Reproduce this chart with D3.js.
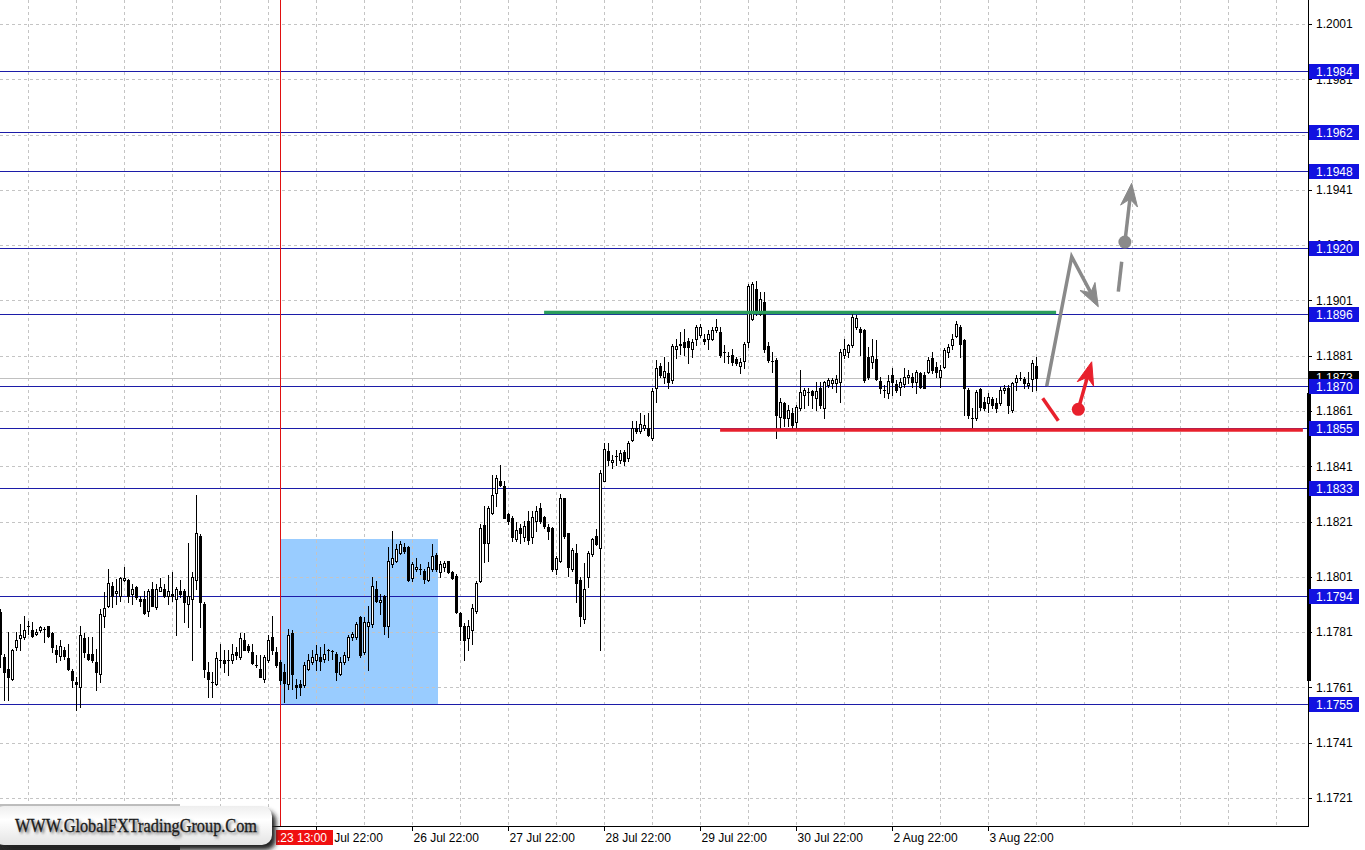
<!DOCTYPE html>
<html><head><meta charset="utf-8">
<script src="https://cdn.jsdelivr.net/npm/d3@7"></script>
<style>body{margin:0;background:#fff;}svg{display:block;}</style>
</head><body><svg id="c" width="1365" height="850"></svg>
<script>
// ---- DATA (EURUSD H1) ----
const opens = [1.17882,1.17720,1.17678,1.17639,1.17756,1.17790,1.17792,1.17831,1.17819,1.17804,
1.17816,1.17820,1.17832,1.17807,1.17747,1.17724,1.17747,1.17718,1.17669,1.17630,
1.17612,1.17790,1.17730,1.17730,1.17702,1.17660,1.17870,1.17906,1.17978,1.17951,
1.17942,1.17999,1.17999,1.17948,1.17975,1.17930,1.17930,1.17888,1.17966,1.17900,
1.17960,1.17966,1.17942,1.17948,1.17930,1.17960,1.17960,1.17910,1.17930,1.17999,
1.18158,1.17910,1.17666,1.17630,1.17622,1.17708,1.17708,1.17708,1.17708,1.17738,
1.17720,1.17780,1.17759,1.17738,1.17690,1.17678,1.17639,1.17708,1.17792,1.17738,
1.17702,1.17666,1.17624,1.17807,1.17618,1.17621,1.17618,1.17678,1.17702,1.17708,
1.17720,1.17714,1.17744,1.17742,1.17732,1.17660,1.17702,1.17720,1.17792,1.17792,
1.17864,1.17738,1.17834,1.17838,1.17966,1.17918,1.17942,1.17834,1.18056,1.18068,
1.18098,1.18119,1.18119,1.18006,1.18038,1.18038,1.18030,1.17999,1.18038,1.18090,
1.18026,1.18044,1.18066,1.18026,1.18014,1.17879,1.17831,1.17790,1.17819,1.17888,
1.17996,1.18198,1.18134,1.18242,1.18314,1.18356,1.18338,1.18236,1.18224,1.18146,
1.18186,1.18155,1.18212,1.18155,1.18212,1.18260,1.18227,1.18191,1.18186,1.18038,
1.18068,1.18294,1.18167,1.18038,1.18095,1.17999,1.17858,1.18008,1.18092,1.18158,
1.18116,1.18358,1.18466,1.18426,1.18446,1.18434,1.18462,1.18440,1.18506,1.18550,
1.18536,1.18548,1.18548,1.18512,1.18692,1.18774,1.18734,1.18746,1.18722,1.18834,
1.18848,1.18860,1.18862,1.18834,1.18872,1.18884,1.18872,1.18872,1.18872,1.18902,
1.18896,1.18824,1.18810,1.18812,1.18798,1.18774,1.18790,1.18860,1.18944,1.19052,
1.18962,1.19004,1.18846,1.18790,1.18794,1.18590,1.18638,1.18584,1.18602,1.18572,
1.18620,1.18668,1.18680,1.18682,1.18656,1.18692,1.18622,1.18704,1.18710,1.18710,
1.18714,1.18812,1.18822,1.18850,1.18914,1.18908,1.18902,1.18806,1.18788,1.18798,
1.18718,1.18686,1.18674,1.18742,1.18706,1.18698,1.18706,1.18734,1.18734,1.18716,
1.18746,1.18742,1.18752,1.18802,1.18770,1.18734,1.18770,1.18822,1.18850,1.18882,
1.18914,1.18866,1.18686,1.18584,1.18584,1.18690,1.18644,1.18638,1.18654,1.18638,
1.18638,1.18686,1.18694,1.18614,1.18714,1.18730,1.18726,1.18704,1.18726,1.18774];
const highs = [1.17894,1.17732,1.17810,1.17750,1.17810,1.17840,1.17870,1.17852,1.17846,1.17822,
1.17834,1.17828,1.17834,1.17810,1.17762,1.17780,1.17756,1.17768,1.17678,1.17648,
1.17831,1.17807,1.17792,1.17792,1.17750,1.17894,1.17954,1.18038,1.17990,1.18002,
1.18008,1.18047,1.18002,1.17984,1.17978,1.17942,1.17960,1.17966,1.17990,1.17984,
1.18006,1.17984,1.18017,1.18029,1.17975,1.17999,1.17966,1.18134,1.18026,1.18306,
1.18164,1.17918,1.17702,1.17666,1.17738,1.17768,1.17744,1.17747,1.17768,1.17756,
1.17807,1.17807,1.17768,1.17768,1.17726,1.17726,1.17726,1.17798,1.17870,1.17756,
1.17708,1.17696,1.17822,1.17816,1.17642,1.17636,1.17702,1.17732,1.17744,1.17762,
1.17756,1.17768,1.17750,1.17747,1.17738,1.17720,1.17738,1.17798,1.17810,1.17846,
1.17870,1.17864,1.17906,1.18008,1.17996,1.17948,1.17946,1.18119,1.18176,1.18128,
1.18140,1.18134,1.18122,1.18062,1.18078,1.18056,1.18038,1.18062,1.18128,1.18095,
1.18068,1.18066,1.18068,1.18032,1.18020,1.17882,1.17843,1.17855,1.17912,1.17996,
1.18200,1.18266,1.18266,1.18380,1.18380,1.18416,1.18356,1.18242,1.18230,1.18210,
1.18200,1.18212,1.18248,1.18248,1.18266,1.18278,1.18230,1.18200,1.18191,1.18086,
1.18308,1.18296,1.18170,1.18114,1.18128,1.18008,1.18059,1.18104,1.18152,1.18182,
1.18398,1.18494,1.18494,1.18452,1.18470,1.18470,1.18470,1.18500,1.18574,1.18574,
1.18602,1.18596,1.18602,1.18692,1.18794,1.18782,1.18806,1.18788,1.18854,1.18872,
1.18896,1.18908,1.18874,1.18870,1.18920,1.18926,1.18890,1.18902,1.18914,1.18944,
1.18914,1.18848,1.18824,1.18836,1.18806,1.18800,1.18860,1.19070,1.19076,1.19082,
1.19040,1.19040,1.18860,1.18824,1.18800,1.18656,1.18644,1.18632,1.18620,1.18632,
1.18758,1.18694,1.18692,1.18686,1.18716,1.18714,1.18718,1.18728,1.18728,1.18740,
1.18834,1.18872,1.18854,1.18962,1.18956,1.18914,1.18908,1.18842,1.18872,1.18866,
1.18734,1.18704,1.18740,1.18764,1.18722,1.18728,1.18766,1.18758,1.18746,1.18758,
1.18752,1.18752,1.18806,1.18824,1.18788,1.18776,1.18838,1.18854,1.18890,1.18934,
1.18920,1.18872,1.18692,1.18620,1.18686,1.18692,1.18662,1.18674,1.18662,1.18656,
1.18698,1.18704,1.18704,1.18716,1.18740,1.18752,1.18734,1.18752,1.18794,1.18806];
const lows = [1.17684,1.17564,1.17564,1.17636,1.17744,1.17744,1.17786,1.17804,1.17792,1.17798,
1.17810,1.17774,1.17792,1.17738,1.17702,1.17708,1.17714,1.17672,1.17612,1.17528,
1.17540,1.17720,1.17708,1.17702,1.17600,1.17630,1.17828,1.17900,1.17900,1.17912,
1.17924,1.17996,1.17918,1.17910,1.17930,1.17903,1.17876,1.17870,1.17903,1.17894,
1.17958,1.17936,1.17910,1.17924,1.17798,1.17936,1.17846,1.17828,1.17708,1.17966,
1.17828,1.17648,1.17576,1.17576,1.17618,1.17684,1.17666,1.17654,1.17699,1.17714,
1.17714,1.17744,1.17738,1.17696,1.17684,1.17648,1.17630,1.17702,1.17732,1.17684,
1.17624,1.17558,1.17606,1.17606,1.17570,1.17582,1.17612,1.17672,1.17696,1.17672,
1.17672,1.17702,1.17708,1.17714,1.17636,1.17654,1.17696,1.17708,1.17780,1.17786,
1.17720,1.17732,1.17672,1.17828,1.17918,1.17876,1.17804,1.17792,1.18044,1.18062,
1.18092,1.18098,1.17996,1.17996,1.18032,1.18020,1.17987,1.17996,1.18032,1.18032,
1.18008,1.18032,1.18023,1.18002,1.17879,1.17780,1.17708,1.17744,1.17768,1.17879,
1.17990,1.18062,1.18068,1.18236,1.18266,1.18338,1.18222,1.18200,1.18140,1.18140,
1.18134,1.18140,1.18128,1.18134,1.18176,1.18206,1.18188,1.18146,1.18032,1.18020,
1.18062,1.18152,1.18014,1.18032,1.17918,1.17834,1.17843,1.17972,1.18086,1.18126,
1.17744,1.18356,1.18416,1.18404,1.18416,1.18422,1.18416,1.18428,1.18500,1.18530,
1.18530,1.18542,1.18518,1.18506,1.18644,1.18734,1.18710,1.18694,1.18710,1.18800,
1.18818,1.18812,1.18782,1.18806,1.18848,1.18878,1.18854,1.18834,1.18866,1.18896,
1.18806,1.18788,1.18782,1.18776,1.18776,1.18746,1.18764,1.18842,1.18938,1.18956,
1.18956,1.18824,1.18788,1.18752,1.18512,1.18548,1.18554,1.18554,1.18542,1.18548,
1.18614,1.18620,1.18632,1.18620,1.18614,1.18620,1.18584,1.18698,1.18692,1.18680,
1.18644,1.18800,1.18806,1.18842,1.18908,1.18812,1.18716,1.18726,1.18764,1.18722,
1.18674,1.18662,1.18656,1.18668,1.18680,1.18668,1.18698,1.18710,1.18698,1.18674,
1.18692,1.18692,1.18746,1.18746,1.18734,1.18698,1.18766,1.18806,1.18836,1.18878,
1.18806,1.18596,1.18584,1.18548,1.18578,1.18614,1.18614,1.18608,1.18620,1.18608,
1.18632,1.18674,1.18602,1.18608,1.18686,1.18722,1.18692,1.18692,1.18682,1.18686];
const closes = [1.17732,1.17666,1.17648,1.17744,1.17780,1.17798,1.17819,1.17831,1.17795,1.17810,
1.17828,1.17820,1.17795,1.17756,1.17730,1.17759,1.17724,1.17678,1.17636,1.17622,
1.17798,1.17738,1.17714,1.17708,1.17666,1.17876,1.17898,1.17987,1.17942,1.17960,
1.18005,1.18005,1.17942,1.17966,1.17936,1.17922,1.17879,1.17960,1.17906,1.17966,
1.17975,1.17942,1.17960,1.17939,1.17966,1.17948,1.17918,1.17939,1.18008,1.18170,
1.17918,1.17678,1.17639,1.17630,1.17718,1.17708,1.17699,1.17708,1.17730,1.17726,
1.17790,1.17747,1.17744,1.17699,1.17690,1.17648,1.17720,1.17780,1.17747,1.17690,
1.17636,1.17627,1.17798,1.17660,1.17612,1.17610,1.17690,1.17708,1.17720,1.17732,
1.17706,1.17732,1.17744,1.17742,1.17666,1.17702,1.17729,1.17792,1.17804,1.17840,
1.17726,1.17846,1.17846,1.17978,1.17924,1.17927,1.17834,1.18068,1.18080,1.18110,
1.18128,1.18104,1.17999,1.18056,1.18047,1.18038,1.18002,1.18047,1.18086,1.18038,
1.18056,1.18059,1.18026,1.18006,1.17882,1.17834,1.17780,1.17831,1.17898,1.17987,
1.18186,1.18134,1.18260,1.18306,1.18366,1.18342,1.18224,1.18212,1.18155,1.18179,
1.18167,1.18194,1.18143,1.18227,1.18248,1.18212,1.18194,1.18176,1.18038,1.18080,
1.18296,1.18158,1.18044,1.18107,1.17987,1.17867,1.17966,1.18095,1.18146,1.18128,
1.18386,1.18474,1.18434,1.18434,1.18446,1.18458,1.18428,1.18494,1.18548,1.18538,
1.18562,1.18560,1.18524,1.18682,1.18766,1.18740,1.18754,1.18714,1.18846,1.18846,
1.18854,1.18842,1.18842,1.18860,1.18914,1.18914,1.18862,1.18890,1.18902,1.18914,
1.18812,1.18824,1.18810,1.18788,1.18782,1.18786,1.18854,1.19062,1.19070,1.18968,
1.19016,1.18836,1.18794,1.18790,1.18596,1.18644,1.18584,1.18614,1.18560,1.18626,
1.18680,1.18686,1.18680,1.18668,1.18682,1.18632,1.18714,1.18722,1.18722,1.18726,
1.18824,1.18834,1.18848,1.18950,1.18946,1.18894,1.18722,1.18734,1.18810,1.18726,
1.18694,1.18686,1.18718,1.18716,1.18686,1.18716,1.18734,1.18740,1.18716,1.18752,
1.18698,1.18694,1.18794,1.18758,1.18752,1.18758,1.18830,1.18842,1.18872,1.18926,
1.18854,1.18692,1.18596,1.18584,1.18680,1.18626,1.18620,1.18662,1.18630,1.18622,
1.18686,1.18694,1.18632,1.18710,1.18730,1.18730,1.18710,1.18710,1.18782,1.18730];

const priceTicks = [1.2001,1.1981,1.1961,1.1941,1.1921,1.1901,1.1881,1.1861,1.1841,1.1821,1.1801,1.1781,1.1761,1.1741,1.1721];
const levelPrices = [1.1984,1.1962,1.1948,1.1920,1.1896,1.1870,1.1855,1.1833,1.1794,1.1755];
const timeLabels = ["25 Jul 22:00","26 Jul 22:00","27 Jul 22:00","28 Jul 22:00","29 Jul 22:00","30 Jul 22:00","2 Aug 22:00","3 Aug 22:00"];
const timeLabelIdx = [79,103,127,151,175,199,223,247];
const gridIdx = d3.range(7, 320, 12);
const currentPrice = 1.1873;
const markerIdx = 70;
const markerLabel = ".23 13:00";
const zoneIdx = [70, 109.4];
const zonePrices = [1.18146, 1.1755];
const resistanceIdx = [135.9, 263.9];
const resistancePrice = 1.18966;
const supportIdx = [179.9, 325.6];
const supportPrice = 1.18541;
const greyZig = [[261.55,1.18700],[267.8,1.19168],[274.45,1.18987]];
const greyDash = [[279.45,1.19042],[280.3,1.19150]];
const greyUp = [[281.1,1.19221],[282.8,1.19434]];
const redDash = [[260.55,1.18656],[264.45,1.18575]];
const redUp = [[269.45,1.18616],[272.8,1.18788]];
const watermark = "WWW.GlobalFXTradingGroup.Com";

// ---- LAYOUT ----
const W = 1365, H = 850, plotR = 1308, plotB = 826;
const svg = d3.select("#c");
const x = d3.scaleLinear().domain([0, 1]).range([0.5, 4.5]);
const y = d3.scaleLinear().domain([1.1721, 1.2001]).range([798, 24]);
const ry = v => Math.round(y(v));
const font = "'Liberation Sans', Arial, sans-serif";

const defs = svg.append("defs");
defs.append("clipPath").attr("id","plot").append("rect").attr("x",0).attr("y",0).attr("width",plotR).attr("height",plotB);
const wg = defs.append("linearGradient").attr("id","wmg").attr("x1",0).attr("y1",0).attr("x2",0).attr("y2",1);
wg.append("stop").attr("offset","0").attr("stop-color","#eeeeee");
wg.append("stop").attr("offset","0.35").attr("stop-color","#ffffff");
wg.append("stop").attr("offset","1").attr("stop-color","#e4e4e4");
const bl = defs.append("filter").attr("id","blur").attr("x","-20%").attr("y","-50%").attr("width","140%").attr("height","200%");
bl.append("feGaussianBlur").attr("stdDeviation",1.4);
const bl2 = defs.append("filter").attr("id","blur2").attr("x","-20%").attr("y","-50%").attr("width","140%").attr("height","200%");
bl2.append("feGaussianBlur").attr("stdDeviation",2.5);

svg.append("rect").attr("width",W).attr("height",H).attr("fill","#fff");
const plot = svg.append("g").attr("clip-path","url(#plot)");

// zone
plot.append("rect")
  .attr("x", Math.round(x(zoneIdx[0]))).attr("y", ry(zonePrices[0]))
  .attr("width", Math.round(x(zoneIdx[1])) - Math.round(x(zoneIdx[0])))
  .attr("height", ry(zonePrices[1]) - ry(zonePrices[0]))
  .attr("fill","#99ccff");

// grid
plot.selectAll("line.gh").data(priceTicks).join("line")
  .attr("x1",0).attr("x2",plotR).attr("y1",d=>ry(d)+0.5).attr("y2",d=>ry(d)+0.5)
  .attr("stroke","#c4c4c4").attr("stroke-dasharray","3,3");
plot.selectAll("line.gv").data(gridIdx).join("line")
  .attr("x1",d=>Math.floor(x(d))+0.5).attr("x2",d=>Math.floor(x(d))+0.5).attr("y1",0).attr("y2",plotB)
  .attr("stroke","#c4c4c4").attr("stroke-dasharray","3,3");

// levels
plot.selectAll("line.lv").data(levelPrices).join("line")
  .attr("x1",0).attr("x2",plotR).attr("y1",d=>ry(d)+0.5).attr("y2",d=>ry(d)+0.5)
  .attr("stroke","#1c1ca8").attr("stroke-width",1);

// current bid line
plot.append("line").attr("x1",0).attr("x2",plotR)
  .attr("y1",ry(currentPrice)+0.5).attr("y2",ry(currentPrice)+0.5)
  .attr("stroke","#c0c0c0");

// marker vertical line
plot.append("line").attr("x1",Math.floor(x(markerIdx))+0.5).attr("x2",Math.floor(x(markerIdx))+0.5)
  .attr("y1",0).attr("y2",plotB).attr("stroke","#e01010");

// candles
const idx = d3.range(opens.length);
const cg = plot.append("g");
cg.selectAll("line.wick").data(idx).join("line")
  .attr("x1",i=>Math.floor(x(i))+0.5).attr("x2",i=>Math.floor(x(i))+0.5)
  .attr("y1",i=>ry(highs[i])).attr("y2",i=>ry(lows[i])+1)
  .attr("stroke","#000");
cg.selectAll("g.body").data(idx).join(function(enter){
  const g = enter.append("g");
  g.each(function(i){
    const s = d3.select(this);
    const cx = Math.floor(x(i));
    const top = ry(Math.max(opens[i],closes[i]));
    const bot = ry(Math.min(opens[i],closes[i]));
    if (bot - top < 1) {
      s.append("line").attr("x1",cx-1).attr("x2",cx+2).attr("y1",top+0.5).attr("y2",top+0.5).attr("stroke","#000");
    } else {
      s.append("rect").attr("x",cx-0.5).attr("y",top+0.5).attr("width",2).attr("height",bot-top)
        .attr("fill", closes[i] >= opens[i] ? "#fff" : "#000").attr("stroke","#000");
    }
  });
  return g;
});

// resistance / support
plot.append("line").attr("x1",x(resistanceIdx[0])).attr("x2",x(resistanceIdx[1]))
  .attr("y1",y(resistancePrice)).attr("y2",y(resistancePrice))
  .attr("stroke","#2a9d5c").attr("stroke-width",3.5);
plot.append("line").attr("x1",x(supportIdx[0])).attr("x2",x(supportIdx[1]))
  .attr("y1",y(supportPrice)).attr("y2",y(supportPrice))
  .attr("stroke","#e8202c").attr("stroke-width",3.5);

// arrows
const P = d => [x(d[0]), y(d[1])];
function arrowPath(pts, color, g) {
  const p = pts.map(P);
  const a = p[p.length-2], b = p[p.length-1];
  const dx = b[0]-a[0], dy = b[1]-a[1], L = Math.hypot(dx,dy), ux = dx/L, uy = dy/L, px = -uy, py = ux;
  const HL = 23, HW = 8.5, NK = 16;
  const shaft = p.slice(0,-1).concat([[b[0]-ux*NK, b[1]-uy*NK]]);
  g.append("path").attr("d", d3.line()(shaft)).attr("fill","none").attr("stroke",color)
    .attr("stroke-width",3.5).attr("stroke-linejoin","miter");
  const head = [b, [b[0]-ux*HL+px*HW, b[1]-uy*HL+py*HW], [b[0]-ux*NK, b[1]-uy*NK], [b[0]-ux*HL-px*HW, b[1]-uy*HL-py*HW]];
  g.append("path").attr("d", d3.line()(head)+"Z").attr("fill",color).attr("stroke",color).attr("stroke-width",1).attr("stroke-linejoin","round");
}
const ag = plot.append("g");
arrowPath(greyZig, "#8a8a8a", ag);
ag.append("path").attr("d", d3.line()(greyDash.map(P))).attr("stroke","#8a8a8a").attr("stroke-width",3.5);
arrowPath(greyUp, "#8a8a8a", ag);
ag.append("circle").attr("cx",x(greyUp[0][0])).attr("cy",y(greyUp[0][1])).attr("r",6.5).attr("fill","#8a8a8a");
ag.append("path").attr("d", d3.line()(redDash.map(P))).attr("stroke","#e8202c").attr("stroke-width",3.5);
arrowPath(redUp, "#e8202c", ag);
ag.append("circle").attr("cx",x(redUp[0][0])).attr("cy",y(redUp[0][1])).attr("r",6.5).attr("fill","#e8202c");

// frame
svg.append("line").attr("x1",plotR+0.5).attr("x2",plotR+0.5).attr("y1",0).attr("y2",plotB+1).attr("stroke","#000");
svg.append("line").attr("x1",0).attr("x2",plotR+1).attr("y1",plotB+0.5).attr("y2",plotB+0.5).attr("stroke","#000");
svg.append("rect").attr("x",plotR-1).attr("y",393).attr("width",4).attr("height",288).attr("fill","#000");

// y axis ticks + labels
svg.selectAll("line.yt").data(priceTicks).join("line")
  .attr("x1",plotR+1).attr("x2",plotR+4).attr("y1",d=>ry(d)+0.5).attr("y2",d=>ry(d)+0.5).attr("stroke","#000");
svg.selectAll("text.yl").data(priceTicks).join("text")
  .attr("x",1316).attr("y",d=>y(d)).attr("dy","0.36em")
  .attr("font-family",font).attr("font-size",12).attr("fill","#000")
  .text(d=>d.toFixed(4));

// current price label
svg.append("rect").attr("x",plotR+1).attr("y",ry(currentPrice)-7).attr("width",50).attr("height",14).attr("fill","#000");
svg.append("text").attr("x",1316).attr("y",y(currentPrice)).attr("dy","0.36em")
  .attr("font-family",font).attr("font-size",12).attr("fill","#fff").text(currentPrice.toFixed(4));

// level labels
svg.selectAll("rect.ll").data(levelPrices).join("rect")
  .attr("x",plotR+1).attr("y",d=>ry(d)-7).attr("width",50).attr("height",15).attr("fill","#1212e0");
svg.selectAll("text.ll").data(levelPrices).join("text")
  .attr("x",1316).attr("y",d=>ry(d)+0.5).attr("dy","0.36em")
  .attr("font-family",font).attr("font-size",12).attr("fill","#fff")
  .text(d=>d.toFixed(4));

// x axis
svg.selectAll("line.xt").data(timeLabelIdx).join("line")
  .attr("x1",d=>Math.floor(x(d))+0.5).attr("x2",d=>Math.floor(x(d))+0.5)
  .attr("y1",plotB).attr("y2",plotB+5).attr("stroke","#000");
svg.selectAll("text.xl").data(timeLabels).join("text")
  .attr("x",(d,k)=>x(timeLabelIdx[k])+1).attr("y",842)
  .attr("font-family",font).attr("font-size",12).attr("fill","#000")
  .text(d=>d);

// marker label
svg.append("rect").attr("x",Math.floor(x(markerIdx))-4).attr("y",830).attr("width",57).attr("height",15).attr("fill","#f01010");
svg.append("text").attr("x",Math.floor(x(markerIdx))-3).attr("y",842)
  .attr("font-family",font).attr("font-size",12).attr("fill","#fff").text(markerLabel);

// watermark
const wm = svg.append("g");
wm.append("rect").attr("x",0).attr("y",804).attr("width",180).attr("height",46).attr("fill","#bdbdbd");
wm.append("rect").attr("x",0).attr("y",836).attr("width",180).attr("height",14).attr("fill","#2a2a2a");
wm.append("rect").attr("x",2).attr("y",811).attr("width",274).attr("height",39).attr("rx",10).attr("fill","#222").attr("filter","url(#blur2)");
wm.append("rect").attr("x",-6).attr("y",806).attr("width",278).attr("height",39).attr("rx",10).attr("fill","url(#wmg)");
wm.append("text").attr("x",138).attr("y",834).attr("text-anchor","middle")
  .attr("font-family","'Liberation Serif', 'DejaVu Serif', serif").attr("font-size",19)
  .attr("textLength",242).attr("lengthAdjust","spacingAndGlyphs")
  .attr("fill","#555").attr("filter","url(#blur)").text(watermark);
wm.append("text").attr("x",136).attr("y",832).attr("text-anchor","middle")
  .attr("font-family","'Liberation Serif', 'DejaVu Serif', serif").attr("font-size",19)
  .attr("textLength",242).attr("lengthAdjust","spacingAndGlyphs")
  .attr("fill","#1a1a1a").attr("stroke","#1a1a1a").attr("stroke-width",0.3).text(watermark);
</script>
</body></html>
